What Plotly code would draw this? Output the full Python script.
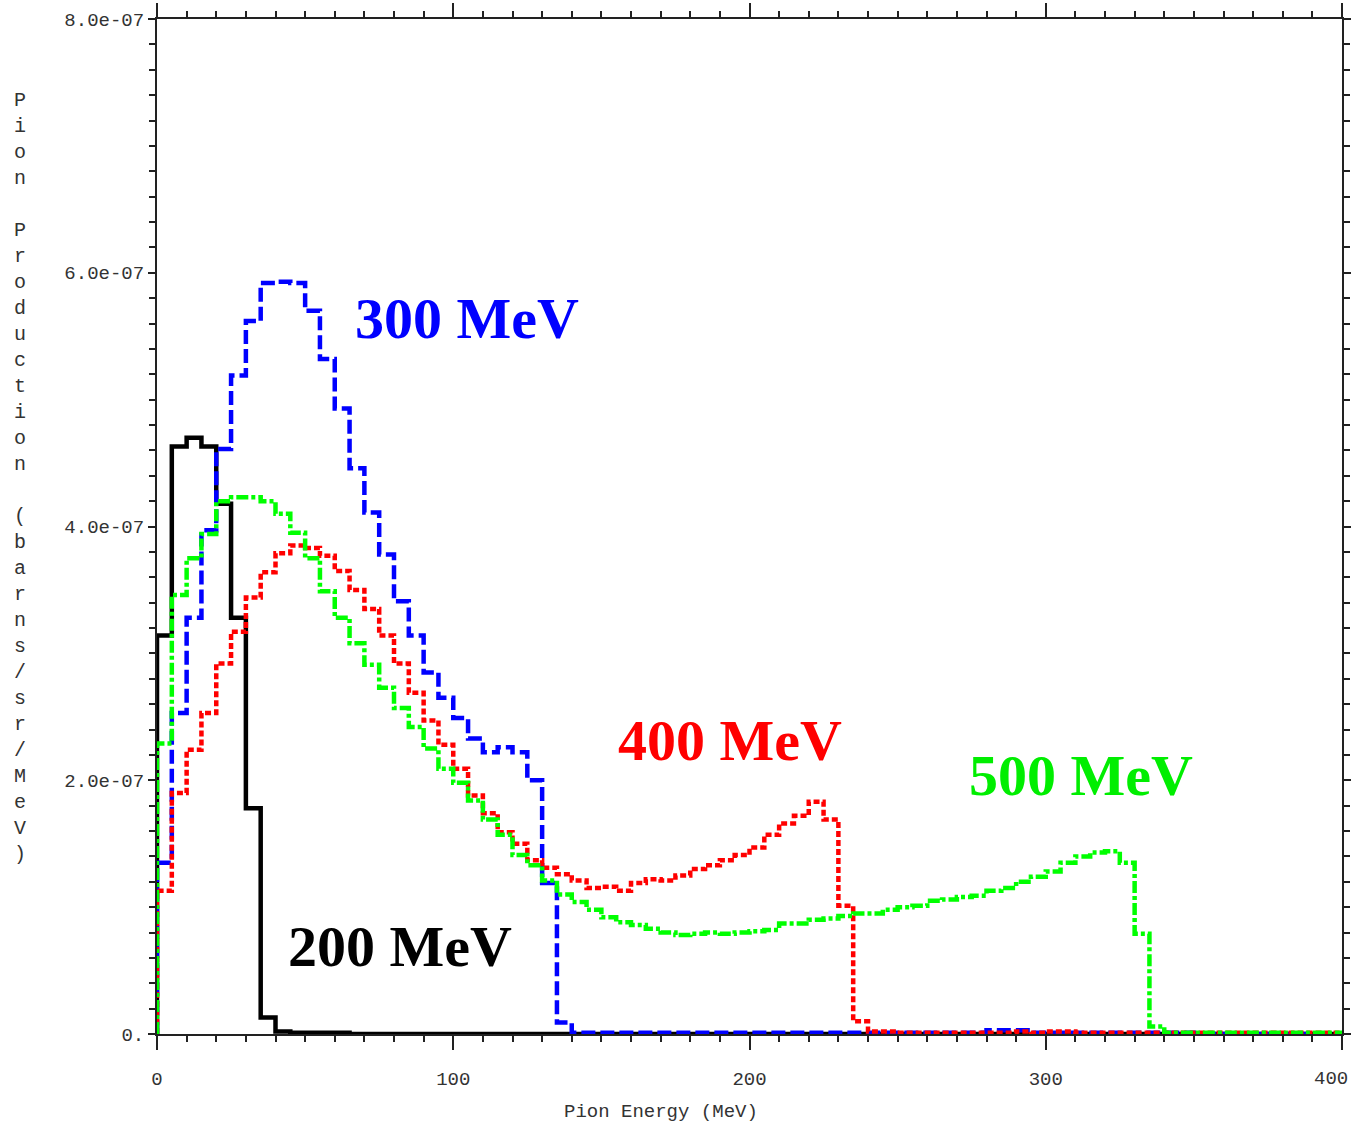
import numpy as np
import plotly.graph_objects as go

# bin edges (MeV), 5 MeV bins from 0 to 400
bin_edges = list(range(0, 405, 5))
SCALE = 1e-7  # values below are in units of 1e-7 barns/sr/MeV

e200 = [3.14, 4.63, 4.70, 4.63, 4.18, 3.28, 1.78, 0.13, 0.02, 0.01,
        0.01, 0.01, 0.01, 0.0, 0.0, 0.0, 0.0, 0.0, 0.0, 0.0,
        0.0, 0.0, 0.0, 0.0, 0.0, 0.0, 0.0, 0.0, 0.0, 0.0,
        0.0, 0.0, 0.0, 0.0, 0.0, 0.0, 0.0, 0.0, 0.0, 0.0,
        0.0, 0.0, 0.0, 0.0, 0.0, 0.0, 0.0, 0.0, 0.0, 0.0,
        0.0, 0.0, 0.0, 0.0, 0.0, 0.0, 0.0, 0.0, 0.0, 0.0,
        0.0, 0.0, 0.0, 0.0, 0.0, 0.0, 0.0, 0.0, 0.0, 0.0,
        0.0, 0.0, 0.0, 0.0, 0.0, 0.0, 0.0, 0.0, 0.0, 0.0]

e300 = [1.35, 2.53, 3.28, 3.97, 4.61, 5.19, 5.62, 5.92, 5.93, 5.92,
        5.70, 5.32, 4.93, 4.46, 4.11, 3.78, 3.41, 3.14, 2.85, 2.65,
        2.49, 2.33, 2.22, 2.26, 2.22, 2.00, 1.19, 0.09, 0.01, 0.01,
        0.01, 0.01, 0.01, 0.01, 0.01, 0.01, 0.01, 0.01, 0.01, 0.01,
        0.01, 0.01, 0.01, 0.01, 0.01, 0.01, 0.01, 0.01, 0.01, 0.01,
        0.01, 0.01, 0.01, 0.01, 0.01, 0.01, 0.03, 0.03, 0.03, 0.01,
        0.01, 0.01, 0.01, 0.01, 0.01, 0.01, 0.01, 0.01, 0.01, 0.01,
        0.0, 0.0, 0.0, 0.0, 0.0, 0.0, 0.0, 0.0, 0.0, 0.0]

e400 = [1.13, 1.90, 2.24, 2.53, 2.92, 3.17, 3.44, 3.64, 3.79, 3.85,
        3.83, 3.77, 3.65, 3.50, 3.35, 3.14, 2.92, 2.69, 2.47, 2.28,
        2.09, 1.88, 1.74, 1.59, 1.50, 1.37, 1.31, 1.26, 1.21, 1.15,
        1.16, 1.13, 1.19, 1.22, 1.21, 1.25, 1.30, 1.33, 1.37, 1.41,
        1.47, 1.57, 1.66, 1.72, 1.83, 1.69, 1.01, 0.10, 0.02, 0.02,
        0.01, 0.01, 0.01, 0.01, 0.01, 0.01, 0.01, 0.01, 0.02, 0.01,
        0.02, 0.02, 0.01, 0.01, 0.01, 0.01, 0.01, 0.01, 0.01, 0.01,
        0.01, 0.01, 0.01, 0.01, 0.01, 0.01, 0.01, 0.01, 0.01, 0.01]

e500 = [2.29, 3.46, 3.75, 3.94, 4.20, 4.23, 4.23, 4.20, 4.10, 3.95,
        3.75, 3.49, 3.28, 3.08, 2.91, 2.73, 2.57, 2.42, 2.25, 2.09,
        1.98, 1.84, 1.69, 1.57, 1.41, 1.33, 1.21, 1.10, 1.04, 0.98,
        0.92, 0.88, 0.86, 0.83, 0.80, 0.78, 0.79, 0.80, 0.79, 0.80,
        0.81, 0.82, 0.87, 0.87, 0.90, 0.91, 0.93, 0.95, 0.95, 0.98,
        1.00, 1.01, 1.05, 1.06, 1.08, 1.09, 1.13, 1.15, 1.20, 1.24,
        1.28, 1.35, 1.40, 1.43, 1.44, 1.35, 0.79, 0.06, 0.01, 0.01,
        0.01, 0.01, 0.01, 0.01, 0.01, 0.01, 0.01, 0.01, 0.01, 0.01]

y_tick_vals = [0, 2e-7, 4e-7, 6e-7, 8e-7]
y_tick_text = ["0.", "2.0e-07", "4.0e-07", "6.0e-07", "8.0e-07"]
x_tick_vals = [0, 100, 200, 300, 400]
x_tick_text = ["0", "100", "200", "300", "400"]

series = [
    ("200 MeV", e200, "#000000", "solid", 4.5),
    ("300 MeV", e300, "#0000ff", "14px,5px", 4.5),
    ("400 MeV", e400, "#ff0000", "6px,3px", 4.5),
    ("500 MeV", e500, "#00ff00", "12px,3px,4px,3px", 4.5),
]

fig = go.Figure()
for name, vals, color, dash, w in series:
    xs = [bin_edges[0]] + bin_edges
    ys = [0.0] + [v * SCALE for v in vals] + [vals[-1] * SCALE]
    fig.add_trace(go.Scatter(x=xs, y=ys, mode="lines", line_shape="hv",
                             line=dict(color=color, dash=dash, width=w),
                             name=name, showlegend=False))

tick_font = dict(family="Liberation Mono, DejaVu Sans Mono, monospace", size=19, color="#333333")

# last x tick label sits at the page edge: drawn as a right-anchored annotation instead
axis_tick_text = x_tick_text[:-1] + [""]

fig.update_xaxes(range=[0, 400], tickvals=x_tick_vals, ticktext=axis_tick_text,
                 ticks="outside", ticklen=14, tickwidth=2, tickcolor="#222222",
                 minor=dict(dtick=10, tick0=0, ticks="outside", ticklen=6, tickwidth=2, tickcolor="#222222"),
                 showline=True, linecolor="#222222", linewidth=2, mirror="allticks",
                 showgrid=False, zeroline=False, tickfont=tick_font, ticklabelstandoff=12,
                 automargin=False)
fig.update_yaxes(range=[0, 8e-7], tickvals=y_tick_vals, ticktext=y_tick_text,
                 ticks="outside", ticklen=7, tickwidth=2, tickcolor="#222222",
                 minor=dict(dtick=2e-8, tick0=0, ticks="outside", ticklen=6, tickwidth=2, tickcolor="#222222"),
                 showline=True, linecolor="#222222", linewidth=2, mirror="allticks",
                 showgrid=False, zeroline=False, tickfont=tick_font, automargin=False,
                 ticklabeloverflow="allow")

fig.add_annotation(x=1.0068, y=-0.0443, xref="paper", yref="paper", text=x_tick_text[-1],
                   showarrow=False, xanchor="right", yanchor="middle", font=tick_font)

label_font = "Liberation Serif, Times New Roman, serif"
labels = [
    ("300 MeV", 104.6, 5.64e-7, "#0000ff"),
    ("400 MeV", 193.4, 2.31e-7, "#ff0000"),
    ("500 MeV", 312.0, 2.04e-7, "#00ee00"),
    ("200 MeV", 82.0, 0.69e-7, "#000000"),
]
for txt, lx, ly, col in labels:
    fig.add_annotation(x=lx, y=ly, xref="x", yref="y", text="<b>%s</b>" % txt,
                       showarrow=False, xanchor="center", yanchor="middle",
                       font=dict(family=label_font, size=58, color=col))

ytitle = "Pion Production (barns/sr/MeV)"
stacked = "<br>".join(c if c != " " else "\u00a0" for c in ytitle)
fig.add_annotation(x=-0.1156, y=0.548, xref="paper", yref="paper", text=stacked,
                   showarrow=False, xanchor="center", yanchor="middle",
                   font=dict(family="Liberation Mono, DejaVu Sans Mono, monospace", size=20, color="#333333"))
fig.add_annotation(x=170, y=-0.077, xref="x", yref="paper", text="Pion Energy (MeV)",
                   showarrow=False, xanchor="center", yanchor="middle",
                   font=dict(family="Liberation Mono, DejaVu Sans Mono, monospace", size=19, color="#333333"))

fig.update_layout(width=1352, height=1128, margin=dict(l=157, r=10, t=19, b=94),
                  paper_bgcolor="white", plot_bgcolor="white")
fig.write_html("out.html")
